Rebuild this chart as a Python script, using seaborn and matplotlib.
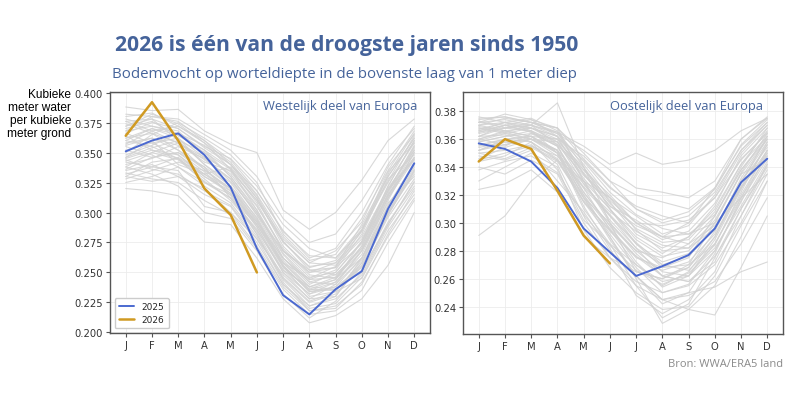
import numpy as np
import pandas as pd
import seaborn as sns
import matplotlib.pyplot as plt

months = ["J", "F", "M", "A", "M", "J", "J", "A", "S", "O", "N", "D"]

# 2025 and 2026
west_2025 = [0.351, 0.360, 0.366, 0.348, 0.321, 0.270, 0.231, 0.215, 0.236, 0.251, 0.303, 0.341]
west_2026 = [0.364, 0.392, 0.360, 0.320, 0.298, 0.250]
east_2025 = [0.357, 0.353, 0.344, 0.325, 0.296, 0.279, 0.262, 0.269, 0.277, 0.296, 0.329, 0.346]
east_2026 = [0.344, 0.360, 0.353, 0.323, 0.291, 0.271]

# earlier years (grey), estimated per line from the picture
west_history = [
    [0.388, 0.385, 0.386, 0.368, 0.357, 0.350, 0.302, 0.286, 0.300, 0.327, 0.360, 0.378],
    [0.320, 0.318, 0.314, 0.292, 0.290, 0.262, 0.228, 0.208, 0.214, 0.228, 0.256, 0.300],
    [0.380, 0.383, 0.372, 0.360, 0.340, 0.318, 0.285, 0.262, 0.270, 0.300, 0.340, 0.372],
    [0.335, 0.340, 0.330, 0.315, 0.305, 0.275, 0.240, 0.222, 0.228, 0.248, 0.290, 0.325],
    [0.362, 0.370, 0.365, 0.350, 0.330, 0.300, 0.262, 0.240, 0.250, 0.275, 0.318, 0.355],
    [0.345, 0.352, 0.348, 0.330, 0.318, 0.288, 0.250, 0.232, 0.238, 0.262, 0.305, 0.340],
    [0.372, 0.378, 0.360, 0.340, 0.325, 0.295, 0.255, 0.235, 0.242, 0.265, 0.312, 0.350],
    [0.328, 0.335, 0.342, 0.335, 0.320, 0.290, 0.258, 0.245, 0.255, 0.290, 0.330, 0.362],
    [0.355, 0.348, 0.338, 0.322, 0.308, 0.280, 0.245, 0.225, 0.232, 0.255, 0.298, 0.335],
    [0.366, 0.375, 0.370, 0.355, 0.345, 0.322, 0.290, 0.270, 0.262, 0.285, 0.325, 0.358],
    [0.340, 0.345, 0.355, 0.345, 0.328, 0.298, 0.268, 0.252, 0.248, 0.270, 0.315, 0.345],
    [0.358, 0.362, 0.352, 0.338, 0.312, 0.282, 0.242, 0.218, 0.222, 0.240, 0.282, 0.318],
    [0.333, 0.328, 0.325, 0.310, 0.298, 0.270, 0.236, 0.215, 0.218, 0.235, 0.275, 0.310],
    [0.376, 0.368, 0.358, 0.342, 0.335, 0.310, 0.275, 0.255, 0.258, 0.280, 0.320, 0.352],
    [0.350, 0.365, 0.375, 0.362, 0.348, 0.325, 0.282, 0.260, 0.265, 0.295, 0.335, 0.368],
    [0.342, 0.338, 0.335, 0.305, 0.300, 0.278, 0.248, 0.228, 0.240, 0.268, 0.308, 0.330],
    [0.368, 0.372, 0.368, 0.348, 0.332, 0.305, 0.270, 0.248, 0.245, 0.262, 0.300, 0.338],
    [0.330, 0.342, 0.345, 0.328, 0.310, 0.285, 0.252, 0.238, 0.246, 0.272, 0.322, 0.360],
    [0.360, 0.355, 0.345, 0.325, 0.315, 0.292, 0.262, 0.244, 0.252, 0.282, 0.328, 0.348],
    [0.382, 0.380, 0.378, 0.365, 0.352, 0.330, 0.295, 0.275, 0.282, 0.310, 0.345, 0.370],
    [0.338, 0.332, 0.322, 0.300, 0.295, 0.268, 0.232, 0.212, 0.226, 0.250, 0.292, 0.322],
    [0.352, 0.358, 0.362, 0.340, 0.322, 0.296, 0.258, 0.236, 0.235, 0.258, 0.305, 0.342],
    [0.346, 0.360, 0.340, 0.332, 0.338, 0.312, 0.278, 0.258, 0.268, 0.292, 0.338, 0.365],
    [0.374, 0.366, 0.352, 0.336, 0.318, 0.290, 0.255, 0.230, 0.234, 0.245, 0.285, 0.315],
    [0.325, 0.330, 0.338, 0.325, 0.312, 0.286, 0.250, 0.228, 0.230, 0.258, 0.300, 0.332],
    [0.357, 0.368, 0.372, 0.358, 0.342, 0.315, 0.280, 0.258, 0.256, 0.278, 0.318, 0.356],
    [0.364, 0.352, 0.345, 0.330, 0.316, 0.288, 0.252, 0.232, 0.242, 0.268, 0.312, 0.344],
    [0.343, 0.350, 0.358, 0.346, 0.326, 0.300, 0.265, 0.242, 0.240, 0.262, 0.310, 0.350],
    [0.370, 0.376, 0.364, 0.352, 0.337, 0.308, 0.268, 0.246, 0.250, 0.276, 0.322, 0.360],
    [0.336, 0.346, 0.350, 0.338, 0.322, 0.293, 0.256, 0.234, 0.238, 0.254, 0.296, 0.328],
    [0.348, 0.356, 0.366, 0.352, 0.330, 0.302, 0.266, 0.244, 0.246, 0.268, 0.314, 0.352],
    [0.362, 0.366, 0.358, 0.344, 0.328, 0.298, 0.260, 0.238, 0.244, 0.272, 0.318, 0.346],
    [0.378, 0.372, 0.366, 0.356, 0.340, 0.312, 0.272, 0.250, 0.254, 0.285, 0.330, 0.362],
    [0.332, 0.338, 0.346, 0.332, 0.316, 0.282, 0.244, 0.222, 0.230, 0.262, 0.306, 0.340],
    [0.356, 0.362, 0.356, 0.336, 0.320, 0.292, 0.256, 0.234, 0.236, 0.252, 0.290, 0.326],
    [0.368, 0.380, 0.376, 0.360, 0.344, 0.318, 0.284, 0.264, 0.262, 0.288, 0.326, 0.364],
    [0.344, 0.336, 0.332, 0.318, 0.306, 0.278, 0.240, 0.220, 0.224, 0.246, 0.288, 0.320],
    [0.360, 0.370, 0.362, 0.346, 0.334, 0.306, 0.268, 0.250, 0.258, 0.284, 0.332, 0.366],
    [0.352, 0.346, 0.350, 0.334, 0.314, 0.284, 0.246, 0.226, 0.234, 0.260, 0.300, 0.336],
    [0.372, 0.382, 0.374, 0.358, 0.336, 0.302, 0.262, 0.242, 0.248, 0.270, 0.316, 0.354],
    [0.338, 0.350, 0.344, 0.326, 0.312, 0.290, 0.254, 0.236, 0.244, 0.276, 0.320, 0.344],
    [0.366, 0.358, 0.348, 0.332, 0.320, 0.294, 0.258, 0.238, 0.236, 0.256, 0.298, 0.334],
    [0.346, 0.354, 0.360, 0.350, 0.336, 0.310, 0.276, 0.254, 0.260, 0.286, 0.334, 0.358],
    [0.330, 0.326, 0.330, 0.320, 0.300, 0.272, 0.238, 0.218, 0.220, 0.242, 0.280, 0.312],
    [0.376, 0.378, 0.370, 0.354, 0.340, 0.314, 0.276, 0.252, 0.254, 0.274, 0.314, 0.346],
]

east_history = [
    [0.291, 0.305, 0.330, 0.345, 0.330, 0.318, 0.300, 0.290, 0.292, 0.300, 0.318, 0.335],
    [0.360, 0.365, 0.370, 0.386, 0.340, 0.310, 0.285, 0.268, 0.270, 0.285, 0.320, 0.352],
    [0.372, 0.374, 0.370, 0.365, 0.355, 0.342, 0.350, 0.342, 0.345, 0.352, 0.366, 0.375],
    [0.350, 0.352, 0.356, 0.342, 0.305, 0.275, 0.255, 0.245, 0.250, 0.254, 0.265, 0.272],
    [0.365, 0.370, 0.365, 0.355, 0.320, 0.290, 0.260, 0.228, 0.238, 0.255, 0.290, 0.330],
    [0.355, 0.360, 0.362, 0.350, 0.310, 0.285, 0.255, 0.232, 0.242, 0.275, 0.310, 0.340],
    [0.370, 0.372, 0.368, 0.362, 0.345, 0.325, 0.312, 0.305, 0.300, 0.318, 0.345, 0.365],
    [0.345, 0.350, 0.355, 0.345, 0.318, 0.300, 0.280, 0.265, 0.262, 0.280, 0.315, 0.350],
    [0.362, 0.368, 0.372, 0.365, 0.335, 0.312, 0.298, 0.290, 0.285, 0.305, 0.340, 0.368],
    [0.375, 0.376, 0.372, 0.368, 0.350, 0.330, 0.320, 0.315, 0.310, 0.325, 0.355, 0.372],
    [0.340, 0.335, 0.345, 0.335, 0.300, 0.275, 0.258, 0.250, 0.255, 0.270, 0.300, 0.335],
    [0.368, 0.365, 0.360, 0.358, 0.328, 0.305, 0.285, 0.272, 0.278, 0.295, 0.330, 0.358],
    [0.358, 0.362, 0.366, 0.356, 0.338, 0.320, 0.300, 0.298, 0.302, 0.318, 0.350, 0.370],
    [0.372, 0.370, 0.365, 0.355, 0.325, 0.295, 0.270, 0.255, 0.265, 0.290, 0.328, 0.362],
    [0.330, 0.340, 0.350, 0.340, 0.295, 0.268, 0.250, 0.238, 0.240, 0.262, 0.298, 0.330],
    [0.365, 0.368, 0.370, 0.362, 0.342, 0.318, 0.295, 0.280, 0.282, 0.302, 0.335, 0.360],
    [0.352, 0.358, 0.360, 0.352, 0.330, 0.310, 0.290, 0.278, 0.290, 0.310, 0.342, 0.366],
    [0.376, 0.372, 0.375, 0.366, 0.340, 0.300, 0.265, 0.260, 0.270, 0.300, 0.335, 0.345],
    [0.348, 0.345, 0.352, 0.330, 0.308, 0.280, 0.262, 0.245, 0.248, 0.258, 0.285, 0.318],
    [0.360, 0.366, 0.362, 0.360, 0.348, 0.330, 0.310, 0.300, 0.305, 0.322, 0.352, 0.372],
    [0.370, 0.375, 0.372, 0.368, 0.330, 0.300, 0.278, 0.262, 0.258, 0.272, 0.310, 0.342],
    [0.324, 0.328, 0.338, 0.322, 0.290, 0.275, 0.265, 0.260, 0.268, 0.290, 0.325, 0.352],
    [0.362, 0.363, 0.358, 0.345, 0.315, 0.295, 0.275, 0.268, 0.275, 0.305, 0.338, 0.362],
    [0.356, 0.355, 0.364, 0.360, 0.335, 0.312, 0.302, 0.290, 0.300, 0.325, 0.360, 0.375],
    [0.367, 0.372, 0.366, 0.350, 0.322, 0.298, 0.280, 0.275, 0.285, 0.298, 0.325, 0.350],
    [0.354, 0.358, 0.355, 0.348, 0.325, 0.305, 0.282, 0.262, 0.258, 0.276, 0.305, 0.338],
    [0.373, 0.368, 0.370, 0.364, 0.352, 0.338, 0.325, 0.322, 0.318, 0.330, 0.360, 0.376],
    [0.344, 0.348, 0.358, 0.338, 0.302, 0.285, 0.270, 0.258, 0.262, 0.285, 0.318, 0.348],
    [0.369, 0.366, 0.368, 0.358, 0.340, 0.315, 0.292, 0.282, 0.290, 0.312, 0.348, 0.368],
    [0.359, 0.364, 0.360, 0.352, 0.312, 0.282, 0.248, 0.235, 0.245, 0.265, 0.305, 0.342],
    [0.352, 0.360, 0.362, 0.350, 0.315, 0.290, 0.262, 0.245, 0.238, 0.234, 0.268, 0.305],
    [0.366, 0.370, 0.368, 0.362, 0.338, 0.316, 0.300, 0.288, 0.294, 0.314, 0.346, 0.364],
    [0.358, 0.362, 0.364, 0.355, 0.322, 0.298, 0.272, 0.254, 0.262, 0.288, 0.324, 0.356],
    [0.374, 0.376, 0.372, 0.364, 0.344, 0.322, 0.306, 0.296, 0.292, 0.306, 0.338, 0.360],
    [0.350, 0.346, 0.354, 0.344, 0.316, 0.294, 0.276, 0.266, 0.272, 0.292, 0.326, 0.356],
    [0.364, 0.368, 0.366, 0.358, 0.332, 0.310, 0.288, 0.276, 0.280, 0.300, 0.336, 0.364],
    [0.370, 0.366, 0.362, 0.352, 0.318, 0.288, 0.262, 0.242, 0.250, 0.278, 0.318, 0.352],
    [0.346, 0.354, 0.360, 0.350, 0.328, 0.306, 0.286, 0.270, 0.266, 0.284, 0.322, 0.358],
    [0.362, 0.370, 0.374, 0.368, 0.346, 0.326, 0.310, 0.302, 0.308, 0.324, 0.356, 0.374],
    [0.338, 0.344, 0.348, 0.336, 0.306, 0.284, 0.266, 0.256, 0.264, 0.282, 0.312, 0.344],
    [0.368, 0.364, 0.368, 0.360, 0.336, 0.314, 0.296, 0.286, 0.288, 0.308, 0.342, 0.362],
    [0.356, 0.360, 0.358, 0.346, 0.320, 0.296, 0.276, 0.262, 0.268, 0.294, 0.332, 0.360],
    [0.372, 0.378, 0.374, 0.362, 0.330, 0.302, 0.282, 0.270, 0.276, 0.296, 0.330, 0.354],
    [0.360, 0.356, 0.360, 0.348, 0.326, 0.308, 0.294, 0.284, 0.282, 0.296, 0.326, 0.348],
    [0.366, 0.372, 0.370, 0.356, 0.334, 0.318, 0.305, 0.292, 0.298, 0.320, 0.352, 0.370],
    [0.352, 0.356, 0.362, 0.352, 0.318, 0.292, 0.268, 0.250, 0.256, 0.280, 0.316, 0.346],
]

BLUE = "#4b69d0"
GOLD = "#d09a22"
GREY = "#d2d2d2"
TITLE = "#45639a"

sns.set_theme(style="whitegrid")
plt.rcParams["font.family"] = ["DejaVu Sans"]


def long_table(history):
    rows = []
    for i, vals in enumerate(history):
        for m, v in enumerate(vals):
            rows.append({"jaar": i, "maand": m, "vocht": v})
    return pd.DataFrame(rows)


def draw_panel(ax, history, v2025, v2026, label, ylim, yticks, fmt, label_x, legend):
    sns.lineplot(data=long_table(history), x="maand", y="vocht", units="jaar",
                 estimator=None, color=GREY, lw=0.8, alpha=0.85, ax=ax, legend=False)
    sns.lineplot(x=np.arange(len(v2025)), y=v2025, color=BLUE, lw=1.4, ax=ax, label="2025")
    sns.lineplot(x=np.arange(len(v2026)), y=v2026, color=GOLD, lw=1.8, ax=ax, label="2026")
    ax.set_xlim(-0.6, 11.6)
    ax.set_ylim(*ylim)
    ax.set_xticks(range(12))
    ax.set_xticklabels(months)
    ax.set_yticks(yticks)
    ax.set_yticklabels([fmt.format(t) for t in yticks])
    ax.set_xlabel("")
    ax.set_ylabel("")
    ax.grid(color="#ececec", lw=0.6)
    for s in ax.spines.values():
        s.set_color("#555555")
        s.set_linewidth(1.0)
    ax.tick_params(axis="both", labelsize=7.2, length=3, width=0.8, color="#555555",
                   labelcolor="#333333", pad=2, left=True, bottom=True)
    ax.text(label_x, 0.945, label, transform=ax.transAxes, ha="right", va="center",
            fontsize=9.3, color=TITLE, family="Open Sans")
    if legend:
        ax.legend(loc="lower left", fontsize=6.5, frameon=True, handlelength=1.7,
                  borderpad=0.5, labelspacing=0.4, framealpha=1, edgecolor="#cccccc")
    else:
        ax.get_legend().remove()


fig = plt.figure(figsize=(7.9, 4.14), dpi=100)
ax1 = fig.add_axes([110 / 790, 80 / 414, 320 / 790, 241 / 414])
ax2 = fig.add_axes([463 / 790, 79 / 414, 320 / 790, 242 / 414])

draw_panel(ax1, west_history, west_2025, west_2026, "Westelijk deel van Europa",
           (0.1995, 0.4005), np.arange(0.200, 0.401, 0.025), "{:.3f}", 0.96, True)
draw_panel(ax2, east_history, east_2025, east_2026, "Oostelijk deel van Europa",
           (0.2204, 0.3938), np.arange(0.24, 0.381, 0.02), "{:.2f}", 0.937, False)

fig.text(115 / 790, 1 - 45 / 414, "2026 is één van de droogste jaren sinds 1950",
         fontsize=15.2, fontweight="bold", color=TITLE, family="Open Sans", va="center")
fig.text(112 / 790, 1 - 75 / 414, "Bodemvocht op worteldiepte in de bovenste laag van 1 meter diep",
         fontsize=10.8, color=TITLE, family="Open Sans", va="center")
fig.text(71 / 790, 1 - 89 / 414, "Kubieke\nmeter water\nper kubieke\nmeter grond",
         ha="right", va="top", fontsize=8.6, family="Liberation Sans", color="black",
         linespacing=1.12)
fig.text(783 / 790, 1 - 365 / 414, "Bron: WWA/ERA5 land", ha="right", va="center",
         fontsize=8, color="#8a8a8a", family="Open Sans")

fig.savefig("out.png", dpi=100)
